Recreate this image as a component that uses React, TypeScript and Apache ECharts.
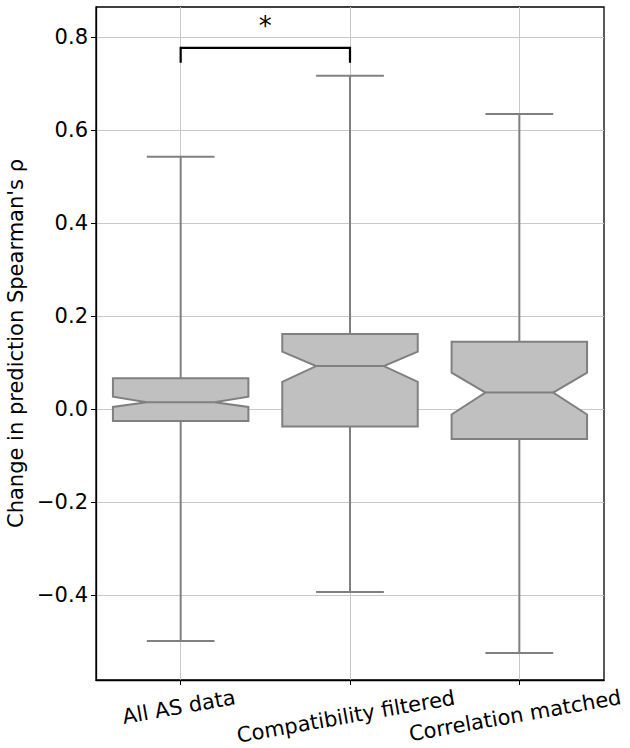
import React, { useEffect, useRef } from "react";
import * as echarts from "echarts";

// ---- data ----
const categories = ["All AS data", "Compatibility filtered", "Correlation matched"];
const whiskerLow = [-0.498, -0.393, -0.524];
const q1 = [-0.025, -0.037, -0.064];
const notchLow = [0.005, 0.059, -0.011];
const median = [0.015, 0.093, 0.036];
const notchHigh = [0.027, 0.124, 0.079];
const q3 = [0.067, 0.162, 0.145];
const whiskerHigh = [0.543, 0.717, 0.635];

const yTicks = [-0.4, -0.2, 0.0, 0.2, 0.4, 0.6, 0.8];
const yMin = -0.582;
const yMax = 0.865;

// significance bracket: [from category, to category, leg bottom, bar y, label y]
const bracketFrom = [0];
const bracketTo = [1];
const bracketLegBottom = [0.745];
const bracketBar = [0.777];
const bracketLabelY = [0.824];
const bracketLabels = ["*"];

const labelPadTop = [8, 17, 16];
const labelPadRight = [10, 18, 18];

const FONT = "DejaVu Sans";
const BOX_WIDTH = 0.8;
const EDGE = "#808080";
const FILL = "#c0c0c0";

export default function App() {
  const ref = useRef<HTMLDivElement>(null);

  useEffect(() => {
    if (!ref.current) return;
    const chart = echarts.init(ref.current, null, { renderer: "svg" });

    const boxData = categories.map((_, i) => [
      i,
      whiskerLow[i],
      q1[i],
      notchLow[i],
      median[i],
      notchHigh[i],
      q3[i],
      whiskerHigh[i],
    ]);

    const bracketData = bracketFrom.map((f, i) => [
      f,
      bracketTo[i],
      bracketLegBottom[i],
      bracketBar[i],
      bracketLabelY[i],
    ]);

    const fmtY = (v: number) => {
      const s = Math.abs(v) < 1e-9 ? "0.0" : v.toFixed(1);
      return s.replace("-", "\u2212");
    };

    const rich: Record<string, any> = {};
    categories.forEach((_, i) => {
      rich["c" + i] = {
        fontSize: 21,
        fontFamily: FONT,
        color: "#000",
        padding: [labelPadTop[i], labelPadRight[i], 0, 0],
      };
    });

    chart.setOption({
      animation: false,
      backgroundColor: "#fff",
      grid: {
        left: 96,
        right: 26,
        top: 7,
        bottom: 68,
        outerBoundsMode: "none",
        containLabel: false,
        show: true,
        borderColor: "#000",
        borderWidth: 1.3,
        backgroundColor: "transparent",
      },
      xAxis: {
        type: "value",
        min: -0.5,
        max: 2.5,
        axisLine: { show: true, onZero: false, lineStyle: { color: "#000", width: 1.3 } },
        axisTick: {
          show: true,
          customValues: [0, 1, 2],
          length: 5,
          lineStyle: { color: "#000", width: 1 },
        },
        axisLabel: {
          customValues: [0, 1, 2],
          rotate: 10,
          align: "center",
          verticalAlign: "top",
          margin: 8,
          hideOverlap: false,
          formatter: (v: number) => {
            const i = Math.round(v);
            return "{c" + i + "|" + categories[i] + "}";
          },
          rich,
          fontSize: 21,
          fontFamily: FONT,
          color: "#000",
        },
        splitLine: { show: true, lineStyle: { color: "#c8c8c8", width: 1 } },
      },
      yAxis: {
        type: "value",
        min: yMin,
        max: yMax,
        name: "Change in prediction Spearman's \u03c1",
        nameLocation: "middle",
        nameGap: 66,
        nameTextStyle: { fontSize: 21, fontFamily: FONT, color: "#000" },
        axisLine: { show: true, onZero: false, lineStyle: { color: "#000", width: 1.3 } },
        axisTick: {
          show: true,
          customValues: yTicks,
          length: 5,
          lineStyle: { color: "#000", width: 1 },
        },
        axisLabel: {
          customValues: yTicks,
          formatter: fmtY,
          fontSize: 21,
          fontFamily: FONT,
          color: "#000",
          margin: 8,
        },
        splitLine: { show: true, lineStyle: { color: "#c8c8c8", width: 1 } },
      },
      series: [
        {
          type: "custom",
          z: 3,
          data: boxData,
          encode: { x: 0, y: [1, 2, 3, 4, 5, 6, 7] },
          renderItem: (params: any, api: any) => {
            const x = api.value(0);
            const w = api.size([BOX_WIDTH, 0])[0];
            const half = w / 2;
            const quarter = w / 4;
            const c = (v: number) => api.coord([x, v]);
            const cx = c(0)[0];
            const yWL = c(api.value(1))[1];
            const yQ1 = c(api.value(2))[1];
            const yNL = c(api.value(3))[1];
            const yMed = c(api.value(4))[1];
            const yNH = c(api.value(5))[1];
            const yQ3 = c(api.value(6))[1];
            const yWH = c(api.value(7))[1];
            const L = cx - half;
            const R = cx + half;
            const iL = cx - quarter;
            const iR = cx + quarter;
            const lineStyle = { stroke: EDGE, lineWidth: 2, fill: null };
            return {
              type: "group",
              children: [
                { type: "line", shape: { x1: cx, y1: yQ3, x2: cx, y2: yWH }, style: lineStyle },
                { type: "line", shape: { x1: cx, y1: yQ1, x2: cx, y2: yWL }, style: lineStyle },
                { type: "line", shape: { x1: iL, y1: yWH, x2: iR, y2: yWH }, style: lineStyle },
                { type: "line", shape: { x1: iL, y1: yWL, x2: iR, y2: yWL }, style: lineStyle },
                {
                  type: "polygon",
                  shape: {
                    points: [
                      [L, yQ3],
                      [R, yQ3],
                      [R, yNH],
                      [iR, yMed],
                      [R, yNL],
                      [R, yQ1],
                      [L, yQ1],
                      [L, yNL],
                      [iL, yMed],
                      [L, yNH],
                    ],
                  },
                  style: { fill: FILL, stroke: EDGE, lineWidth: 2, lineJoin: "miter" },
                },
                { type: "line", shape: { x1: iL, y1: yMed, x2: iR, y2: yMed }, style: lineStyle },
              ],
            };
          },
        },
        {
          type: "custom",
          z: 4,
          data: bracketData,
          encode: { x: [0, 1], y: [2, 3, 4] },
          renderItem: (params: any, api: any) => {
            const a = api.coord([api.value(0), api.value(2)]);
            const b = api.coord([api.value(0), api.value(3)]);
            const cpt = api.coord([api.value(1), api.value(3)]);
            const d = api.coord([api.value(1), api.value(2)]);
            const mid = api.coord([(api.value(0) + api.value(1)) / 2, api.value(4)]);
            return {
              type: "group",
              children: [
                {
                  type: "polyline",
                  shape: { points: [a, b, cpt, d] },
                  style: { stroke: "#000", lineWidth: 2.2, fill: null },
                },
                {
                  type: "text",
                  x: mid[0],
                  y: mid[1],
                  style: {
                    text: bracketLabels[params.dataIndex],
                    fontSize: 26,
                    fontFamily: FONT,
                    fill: "#000",
                    align: "center",
                    verticalAlign: "middle",
                  },
                },
              ],
            };
          },
        },
      ],
    });

    return () => chart.dispose();
  }, []);

  return (
    <div
      ref={ref}
      style={{ position: "absolute", left: 0, top: 0, width: 630, height: 748, background: "#fff" }}
    />
  );
}
